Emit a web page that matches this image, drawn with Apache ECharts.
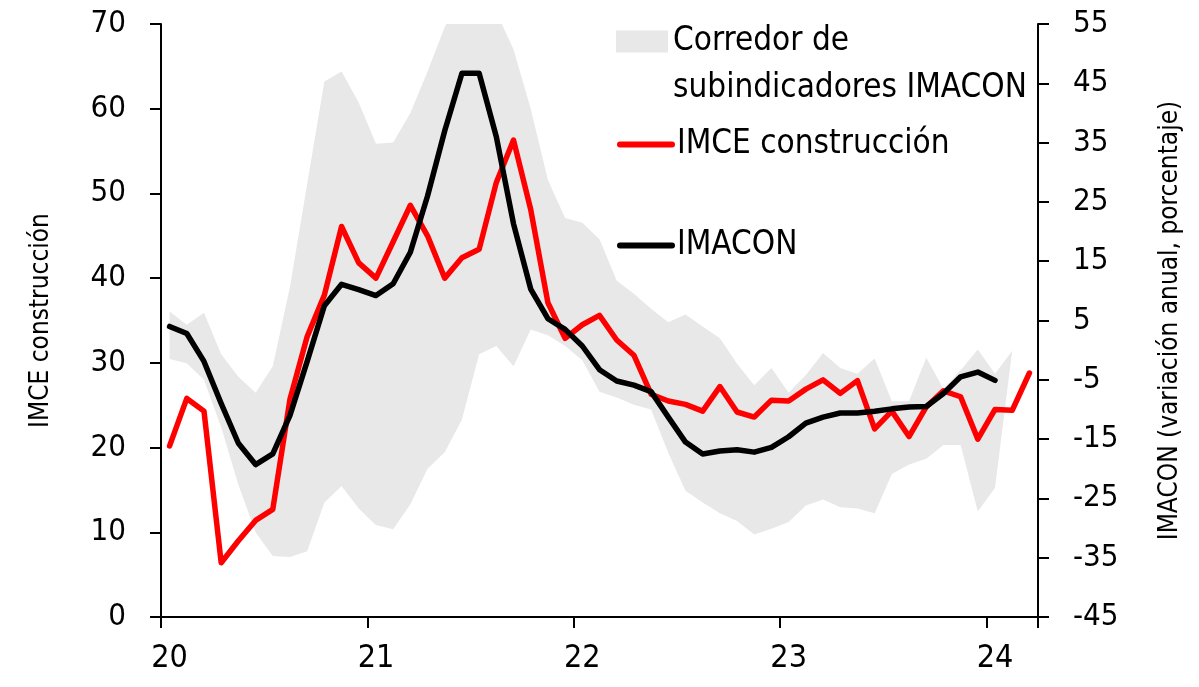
<!DOCTYPE html>
<html>
<head>
<meta charset="utf-8">
<script src="https://cdn.jsdelivr.net/npm/echarts@6/dist/echarts.min.js"></script>
<style>
  html, body { margin: 0; padding: 0; background: #fff; }
  #chart { width: 1199px; height: 687px; }
</style>
</head>
<body>
<div id="chart"></div>
<script>
// años mostrados en el eje X (ene-2020 a mar-2024, mensual)
const years = ['20', '21', '22', '23', '24'];
const nMonths = 51;

// IMCE construcción (eje izquierdo)
const imce = [20.2, 25.8, 24.3, 6.4, 9.0, 11.4, 12.7, 25.7, 33.1, 38.0, 46.1, 41.8,
  40.0, 44.3, 48.6, 45.0, 40.0, 42.4, 43.4, 51.3, 56.3, 48.1, 37.1, 32.9,
  34.5, 35.6, 32.7, 30.9, 26.3, 25.5, 25.1, 24.3, 27.2, 24.2, 23.6, 25.6,
  25.5, 26.9, 28.0, 26.4, 27.9, 22.2, 24.3, 21.3, 24.8, 26.7, 26.0, 21.0,
  24.5, 24.4, 28.8];

// IMACON, variación anual (eje derecho)
const imacon = [4.0, 2.8, -1.9, -9.0, -15.7, -19.3, -17.5, -11.0, -1.9, 7.5, 11.1, 10.2,
  9.2, 11.2, 16.5, 26.0, 37.0, 46.7, 46.7, 36.0, 21.3, 10.3, 5.3, 3.5,
  0.7, -3.3, -5.2, -5.9, -7.0, -11.3, -15.5, -17.5, -17.0, -16.8, -17.2, -16.4,
  -14.6, -12.3, -11.3, -10.6, -10.6, -10.3, -9.9, -9.6, -9.5, -7.3, -4.5, -3.7,
  -5.1, null, null];

// corredor de subindicadores IMACON: máximo y mínimo (eje derecho)
const bandUpper = [6.5, 4.3, 6.3, -0.7, -4.5, -7.2, -2.7, 10.7, 28.0, 45.3, 47.0, 41.7,
  34.8, 35.0, 40.0, 47.0, 54.5, 60.0, 62.0, 57.0, 50.7, 40.7, 28.7, 22.3,
  21.5, 18.7, 11.7, 9.5, 7.0, 4.7, 6.0, 4.0, 2.0, -2.3, -5.9, -3.0,
  -7.2, -4.2, -0.5, -3.0, -4.0, -1.4, -8.6, -8.6, -1.3, -6.5, -3.4, 0.1,
  -4.0, -0.1, null];
const bandLower = [-1.5, -2.2, -5.0, -13.0, -22.7, -30.7, -34.7, -34.9, -33.9, -25.7, -22.9, -26.7,
  -29.5, -30.2, -26.0, -20.0, -17.2, -11.7, -0.7, 0.7, -2.7, 3.5, 2.5, 0.7,
  -1.7, -7.0, -8.0, -9.2, -10.0, -17.3, -23.7, -25.7, -27.5, -28.8, -31.1, -30.1,
  -29.0, -26.2, -25.2, -26.5, -26.7, -27.5, -20.9, -19.3, -18.3, -16.0, -16.0, -27.2,
  -23.2, -0.1, null];

const NAME_BAND = 'Corredor de subindicadores IMACON';
const NAME_IMCE = 'IMCE construcción';
const NAME_IMACON = 'IMACON';
const FONT = "'DejaVu Sans Condensed', 'Liberation Sans Narrow', sans-serif";

const categories = [];
years.forEach(y => {
  for (let m = 1; m <= 12; m++) categories.push(y + '-' + String(m).padStart(2, '0'));
});
categories.length = nMonths;

// ancho del corredor para el apilado
const bandSpan = bandUpper.map((u, i) => (u == null || bandLower[i] == null) ? null : +(u - bandLower[i]).toFixed(2));

const chart = echarts.init(document.getElementById('chart'));

const axisCommon = {
  axisLine: { show: true, lineStyle: { color: '#000', width: 2 } },
  axisTick: { show: true, length: 11, lineStyle: { color: '#000', width: 2 } },
  splitLine: { show: false }
};

const legendText = { fontFamily: FONT, fontSize: 33, color: '#000', lineHeight: 47 };

chart.setOption({
  animation: false,
  backgroundColor: '#fff',
  textStyle: { fontFamily: FONT },
  grid: { left: 161, right: 161, top: 24, bottom: 70 },
  legend: [
    {
      left: 616, top: -29, padding: 0,
      itemWidth: 52, itemHeight: 22,
      data: [{ name: NAME_BAND, icon: 'rect', itemStyle: { color: '#e8e8e8' } }],
      // línea vacía arriba para que el icono quede junto a la primera línea
      formatter: () => '\nCorredor de\nsubindicadores IMACON',
      textStyle: legendText,
      selectedMode: false
    },
    {
      left: 617, top: 121, padding: 0,
      itemWidth: 52, itemHeight: 14,
      data: [NAME_IMCE],
      lineStyle: { width: 6 },
      itemStyle: { opacity: 0 },
      textStyle: legendText,
      selectedMode: false
    },
    {
      left: 617, top: 222, padding: 0,
      itemWidth: 52, itemHeight: 14,
      data: [NAME_IMACON],
      lineStyle: { width: 6 },
      itemStyle: { opacity: 0 },
      textStyle: legendText,
      selectedMode: false
    }
  ],
  xAxis: {
    type: 'category',
    data: categories,
    boundaryGap: true,
    ...axisCommon,
    axisTick: { show: true, interval: 11, length: 11, lineStyle: { color: '#000', width: 2 } },
    axisLabel: {
      interval: 11,
      fontSize: 32, color: '#000', margin: 26, fontFamily: FONT,
      formatter: v => v.endsWith('-01') ? v.slice(0, 2) : ''
    }
  },
  yAxis: [
    {
      type: 'value', position: 'left', min: 0, max: 70, interval: 10,
      ...axisCommon,
      axisLabel: { fontSize: 31, color: '#000', margin: 35, fontFamily: FONT },
      name: NAME_IMCE, nameLocation: 'middle', nameRotate: 90, nameGap: 107,
      nameTextStyle: { fontSize: 26, color: '#000', fontFamily: FONT }
    },
    {
      type: 'value', position: 'right', min: -45, max: 55, interval: 10,
      ...axisCommon,
      axisLabel: { fontSize: 31, color: '#000', margin: 35, fontFamily: FONT },
      name: 'IMACON (variación anual, porcentaje)', nameLocation: 'middle', nameRotate: 90, nameGap: 119,
      nameTextStyle: { fontSize: 26, color: '#000', fontFamily: FONT }
    }
  ],
  series: [
    {
      name: 'base', type: 'line', yAxisIndex: 1, stack: 'band', stackStrategy: 'all',
      data: bandLower, symbol: 'none', silent: true,
      lineStyle: { width: 0, opacity: 0 }
    },
    {
      name: NAME_BAND, type: 'line', yAxisIndex: 1, stack: 'band', stackStrategy: 'all',
      data: bandSpan, symbol: 'none', silent: true,
      itemStyle: { color: '#e8e8e8' },
      lineStyle: { width: 0, opacity: 0 },
      areaStyle: { color: '#e8e8e8', opacity: 1 }
    },
    {
      name: NAME_IMCE, type: 'line', yAxisIndex: 0,
      data: imce, symbol: 'none',
      itemStyle: { color: '#ff0000' },
      lineStyle: { color: '#ff0000', width: 5.5, cap: 'round', join: 'round' }
    },
    {
      name: NAME_IMACON, type: 'line', yAxisIndex: 1,
      data: imacon, symbol: 'none',
      itemStyle: { color: '#000' },
      lineStyle: { color: '#000', width: 5.5, cap: 'round', join: 'round' }
    }
  ]
});
</script>
</body>
</html>
